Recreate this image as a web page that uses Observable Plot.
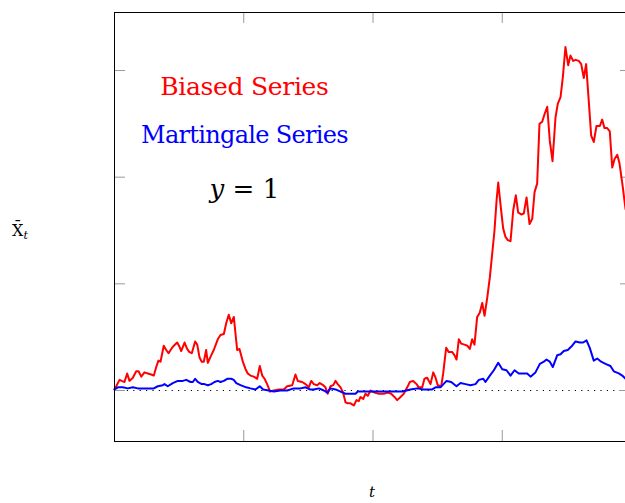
<!DOCTYPE html>
<html><head><meta charset="utf-8">
<script src="https://cdn.jsdelivr.net/npm/d3@7"></script>
<script src="https://cdn.jsdelivr.net/npm/@observablehq/plot@0.6"></script>
<style>
html,body{margin:0;padding:0;background:#fff;overflow:hidden;width:625px;height:503px}
#chart{position:relative;width:625px;height:503px;overflow:hidden}
#chart svg{display:block;max-width:none !important;width:640px !important;height:503px !important}
</style></head><body><div id="chart"></div>
<script>
// Biased series
const biasedT = [0,3.9,5.6,7.7,9.8,11.6,14.2,16.8,18.6,20.7,23.2,25.8,28.4,30.4,32.3,34.0,35.6,38.1,40.0,41.8,43.9,45.9,48.5,50.3,51.6,54.2,56.2,58.0,59.8,62.4,64.0,65.8,67.5,69.1,70.9,72.2,74.8,76.8,79.9,82.0,84.6,86.4,88.4,90.3,92.3,94.9,96.7,99.3,101.4,103.1,105.2,107.8,110.4,112.4,114.3,116.1,118.1,119.4,120.2,123.3,127.1,131.0,133.6,137.5,140.0,141.8,145.2,147.8,150.3,152.2,154.2,156.8,158.8,161.5,163.2,165.0,167.1,169.2,171.0,172.7,174.9,176.9,178.7,180.5,182.6,185.2,187.2,189.0,190.3,192.4,194.2,196.0,198.1,201.2,204.5,208.4,211.4,214.1,216.6,218.7,221.3,223.8,226.5,228.5,231.1,233.7,235.4,238.1,239.8,241.9,244.5,246.6,248.4,250.1,252.8,254.3,256.6,258.6,261.3,263.1,264.6,266.4,268.2,270.8,272.9,274.9,276.7,278.5,280.6,282.6,284.5,286.3,288.4,290.4,292.2,294.0,295.6,296.9,298.6,300.7,302.5,304.3,306.4,308.5,310.5,312.3,314.7,316.7,318.8,321.1,323.2,325.0,327.0,328.8,330.9,332.7,334.8,336.8,338.9,341.2,343.0,345.1,346.9,348.9,351.0,352.8,354.9,356.7,359.2,361.1,363.1,364.9,366.9,368.8,370.8,372.9,375.5,377.3,379.1,381.2,383.2,385.1,386.9,389.0,390.7,392.8,395.4];
const biasedY = [1.01,1.10,1.09,1.08,1.16,1.09,1.12,1.18,1.18,1.13,1.17,1.16,1.15,1.14,1.22,1.28,1.27,1.42,1.38,1.35,1.39,1.42,1.45,1.41,1.37,1.45,1.39,1.36,1.35,1.46,1.43,1.31,1.27,1.27,1.38,1.26,1.33,1.38,1.48,1.52,1.53,1.63,1.71,1.63,1.69,1.38,1.39,1.27,1.20,1.16,1.14,1.13,1.11,1.23,1.14,1.11,1.06,1.02,0.99,1.00,1.01,1.01,1.04,1.05,1.15,1.09,1.08,1.06,1.03,1.09,1.06,1.05,1.07,1.05,1.03,0.97,1.04,1.05,1.09,1.06,1.03,0.98,0.89,0.88,0.88,0.86,0.91,0.90,0.94,0.92,0.97,0.95,1.00,0.98,0.97,0.97,0.98,0.97,0.94,0.91,0.94,0.97,1.03,1.08,1.09,1.06,1.03,1.03,1.11,1.12,1.06,1.17,1.12,1.05,1.04,1.16,1.40,1.36,1.36,1.33,1.29,1.48,1.44,1.43,1.42,1.39,1.48,1.43,1.69,1.73,1.82,1.70,1.87,2.06,2.28,2.50,2.78,2.95,2.75,2.52,2.44,2.41,2.40,2.69,2.83,2.67,2.65,2.66,2.81,2.56,2.61,2.86,2.94,3.50,3.52,3.59,3.66,3.34,3.15,3.56,3.69,3.75,3.94,4.22,4.05,4.14,4.09,4.10,4.09,4.06,3.93,4.06,3.72,3.39,3.33,3.48,3.48,3.54,3.46,3.46,3.43,3.09,3.17,3.21,3.13,2.95,2.70];
// Martingale series
const martT = [0,2.6,6.4,10.3,14.2,18.0,21.9,25.8,30.4,33.5,37.4,38.7,41.2,45.1,49.0,52.8,55.5,58.8,60.6,62.4,64.4,67.5,69.6,72.2,74.8,77.4,79.9,82.0,84.6,87.2,90.3,92.3,94.2,97.5,101.9,105.2,109.1,112.4,115.0,119.4,123.3,128.4,133.6,138.7,143.9,147.8,151.1,154.2,158.1,162.0,164.6,167.1,171.0,174.9,178.7,182.6,186.5,188.2,192.9,200.6,208.4,216.1,222.6,229.0,234.2,239.3,245.8,248.4,252.2,256.9,260.5,264.6,267.7,271.6,275.4,279.3,281.9,285.3,287.0,290.4,293.5,296.9,300.0,303.3,306.4,309.5,312.8,316.7,319.3,321.9,325.7,329.1,332.2,334.2,336.8,339.1,342.5,345.1,347.6,350.7,354.1,356.7,360.0,362.6,365.2,367.7,370.8,373.5,376.5,379.9,383.7,386.3,390.2,392.8,395.4];
const martY = [1.01,1.03,1.03,1.02,1.03,1.02,1.02,1.02,1.02,1.04,1.05,1.06,1.04,1.07,1.09,1.09,1.10,1.08,1.08,1.11,1.08,1.06,1.06,1.05,1.06,1.08,1.09,1.08,1.09,1.11,1.11,1.10,1.07,1.05,1.03,1.02,1.01,1.04,1.01,1.00,0.99,1.00,1.00,1.02,1.02,1.03,1.01,1.01,1.02,1.00,0.98,1.02,1.01,0.99,0.97,0.97,0.97,0.99,0.99,0.99,0.99,0.99,0.99,1.01,1.02,1.01,1.01,1.03,1.03,1.09,1.08,1.04,1.07,1.06,1.05,1.06,1.10,1.11,1.08,1.14,1.19,1.26,1.20,1.19,1.14,1.19,1.16,1.16,1.16,1.13,1.17,1.25,1.27,1.29,1.27,1.22,1.33,1.34,1.37,1.38,1.42,1.46,1.45,1.45,1.47,1.40,1.28,1.30,1.27,1.25,1.23,1.18,1.16,1.14,1.11];
const xTicks = [100, 200, 300];
const yTicks = [1, 2, 3, 4];
const refLevel = [1];
const legendLabels = ["Biased Series", "Martingale Series", "y = 1"];
const xLabel = "t";

const biased = biasedT.map((t, i) => ({t, y: biasedY[i]}));
const mart = martT.map((t, i) => ({t, y: martY[i]}));

const W = 640, H = 503, mL = 114, mT = 12, mR = 9, mB = 62;
const fw = W - mL - mR, fh = H - mT - mB;
const serif = "'DejaVu Serif', 'Liberation Serif', serif";

const plot = Plot.plot({
  width: W, height: H,
  marginLeft: mL, marginTop: mT, marginRight: mR, marginBottom: mB,
  x: {domain: [0, 400], axis: null},
  y: {domain: [0.522, 4.544], axis: null},
  style: {fontFamily: serif, background: "white", overflow: "visible", maxWidth: "none"},
  marks: [
    Plot.ruleY(refLevel, {stroke: "black", strokeWidth: 1, strokeDasharray: "1.2,5.2"}),
    Plot.tickX(xTicks, {x: d => d, insetTop: fh - 11, stroke: "#999", strokeWidth: 1}),
    Plot.tickX(xTicks, {x: d => d, insetBottom: fh - 11, stroke: "#999", strokeWidth: 1}),
    Plot.tickY(yTicks, {y: d => d, insetRight: fw - 11, stroke: "#999", strokeWidth: 1}),
    Plot.tickY(yTicks, {y: d => d, insetLeft: fw - 11, stroke: "#999", strokeWidth: 1}),
    Plot.line(biased, {x: "t", y: "y", stroke: "#ff0000", strokeWidth: 2, strokeLinejoin: "round"}),
    Plot.line(mart, {x: "t", y: "y", stroke: "#0000ff", strokeWidth: 2, strokeLinejoin: "round"}),
    Plot.text([legendLabels[0]], {x: 100.5, y: 3.85, text: d => d, fill: "#ff0000", fontSize: 25, textAnchor: "middle", className: "lg1"}),
    Plot.text([legendLabels[1]], {x: 100.5, y: 3.39, text: d => d, fill: "#0000ff", fontSize: 24, textAnchor: "middle", className: "lg2"}),
    Plot.text([legendLabels[2]], {x: 100.5, y: 2.88, text: d => d, fill: "black", fontSize: 26, textAnchor: "middle", className: "eqlabel"}),
    Plot.frame({stroke: "black", strokeWidth: 1})
  ]
});

const svg = d3.select(plot);
svg.style("max-width", "none");
svg.selectAll(".lg1 text").attr("letter-spacing", "-0.3");
svg.selectAll(".lg2 text").attr("letter-spacing", "-0.7");
// italic y in "y = 1"
svg.selectAll(".eqlabel text").each(function() {
  const t = d3.select(this);
  const s = t.text();
  t.text(null);
  t.append("tspan").attr("font-style", "italic").text(s.slice(0, 1));
  t.append("tspan").text(s.slice(1));
});
// y-axis label  X̄_t
const yl = svg.append("text").attr("x", 20).attr("y", 236).attr("font-family", serif).attr("font-size", 16).attr("fill", "black");
yl.append("tspan").text("X\u0304");
yl.append("tspan").attr("font-style", "italic").attr("font-size", 11).attr("dy", 3).text("t");
// x-axis label t
svg.append("text").attr("x", 372).attr("y", 497).attr("text-anchor", "middle").attr("font-family", serif)
  .attr("font-size", 15).attr("font-style", "italic").attr("fill", "black").text(xLabel);

document.getElementById("chart").appendChild(plot);
</script></body></html>
